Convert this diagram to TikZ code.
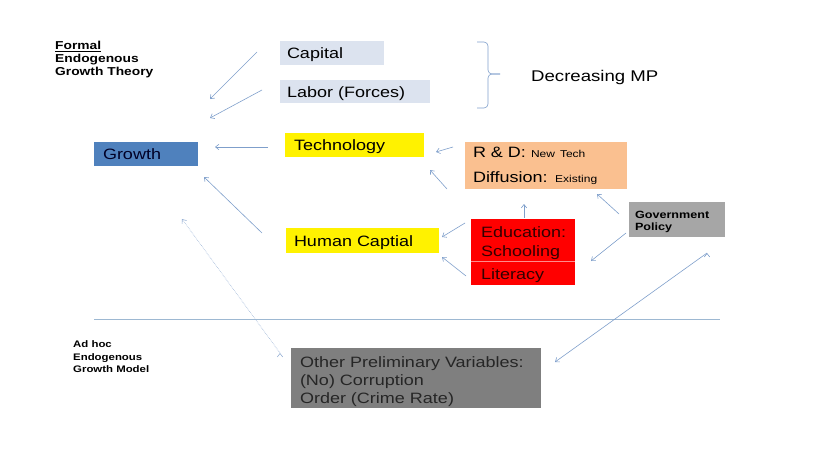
\documentclass[tikz,border=0pt]{standalone}
\usepackage{fontspec}
\setmainfont[FakeStretch=1.2]{Liberation Sans}
\usepackage{xcolor}
\usetikzlibrary{arrows.meta}
\definecolor{capblue}{HTML}{DCE3EF}
\definecolor{growthblue}{HTML}{4F81BD}
\definecolor{peach}{HTML}{FAC090}
\definecolor{govgray}{HTML}{A6A6A6}
\definecolor{othergray}{HTML}{7F7F7F}
\definecolor{arrowblue}{HTML}{7F9FCB}
\definecolor{rulecol}{HTML}{9DB8D2}
\newcommand{\lift}[1]{\rule{0pt}{#1}}

\begin{document}
\begin{tikzpicture}[x=1pt,y=-1pt,>={Straight Barb[length=3.5pt,width=5.5pt]},
	box/.style={inner xsep=8pt,inner ysep=0pt,align=left,font=\fontsize{15}{19}\selectfont},
	oneline/.style={text height=13pt,text depth=2pt},
	side/.style={inner sep=0pt,align=left,anchor=west},
	arr/.style={->,draw=arrowblue,line width=0.6pt}]
	\useasboundingbox (0,0) rectangle (819,460);

	% left hand labels
	\node [side,font=\bfseries\fontsize{11.5}{13}\selectfont] at (55,59.5) (formal) {\underline{Formal}\\Endogenous\\Growth Theory};
	\node [side,font=\bfseries\fontsize{9.5}{12.5}\selectfont] at (73,357) (adhoc) {Ad hoc\\Endogenous\\Growth Model};
	\node [side,font=\fontsize{15.5}{19}\selectfont] at (531,77) (dmp) {Decreasing MP};

	% boxes
	\node [box,oneline,fill=capblue,inner xsep=7pt,text width=90pt,minimum height=24pt] at (332,53) (capital) {Capital};
	\node [box,oneline,fill=capblue,inner xsep=7pt,text width=136pt,minimum height=23pt] at (355,91.5) (labor) {Labor (Forces)};
	\node [box,oneline,fill=growthblue,inner xsep=9pt,text width=86pt,minimum height=24pt,text=black!85!blue] at (146,154) (growth) {Growth};
	\node [box,oneline,fill=yellow,inner xsep=9pt,text width=121pt,minimum height=24pt] at (354.5,145) (tech) {Technology};
	\node [box,fill=peach,text width=146pt,minimum height=47pt,font=\fontsize{15}{25}\selectfont] at (546,165.5) (rd)
		{R \& D: {\fontsize{10}{12}\selectfont New Tech}\\Diffusion: {\fontsize{10}{12}\selectfont Existing}};
	\node [box,fill=red,inner xsep=10pt,text width=84pt,minimum height=42pt,text=black!80!red] at (523,240) (edu) {\lift{17pt}Education:\\Schooling};
	\node [box,oneline,fill=red,inner xsep=10pt,text width=84pt,minimum height=23pt,text=black!80!red] at (523,273.5) (lit) {Literacy};
	\node [box,oneline,fill=yellow,text width=137pt,minimum height=25pt] at (362.5,240.5) (hc) {Human Captial};
	\node [box,fill=govgray,inner xsep=6pt,inner ysep=4pt,text width=84pt,minimum height=31pt,font=\bfseries\fontsize{10.5}{12}\selectfont] at (677,219.5) (gov) {\lift{12pt}Government\\Policy};
	\node [box,fill=othergray,inner xsep=9pt,text width=232pt,minimum height=60pt,font=\fontsize{15}{18}\selectfont,text=black!85] at (416,378) (other)
		{\lift{19pt}Other Preliminary Variables:\\(No) Corruption\\Order (Crime Rate)};
	\draw [red!45!white,line width=0.5pt] (edu.south west) -- (edu.south east);

	% brace and dividing rule
	\draw [arrowblue,line width=0.6pt,rounded corners=4pt] (477,42) -| (488,74) -- (500,74);
	\draw [arrowblue,line width=0.6pt,rounded corners=4pt] (500,74) -- (488,74) |- (477,108);
	\draw [rulecol,line width=0.7pt] (94,319) -- (720,319);

	% arrow ends
	\coordinate (cap-s) at (257,52);   \coordinate (cap-e) at (210,99);
	\coordinate (lab-s) at (262,90);   \coordinate (lab-e) at (210,118);
	\coordinate (tec-s) at (268,147);  \coordinate (tec-e) at (215,147);
	\coordinate (rd-s) at (453,147);   \coordinate (rd-e) at (436,152);
	\coordinate (rd2-s) at (447,189);  \coordinate (rd2-e) at (430,170);
	\coordinate (edu-s) at (524,218);  \coordinate (edu-e) at (524,204);
	\coordinate (edh-s) at (465,223);  \coordinate (edh-e) at (442,237);
	\coordinate (lit-s) at (466,276);  \coordinate (lit-e) at (442,257);
	\coordinate (gov-s) at (619,214);  \coordinate (gov-e) at (597,194);
	\coordinate (gvl-s) at (626,233);  \coordinate (gvl-e) at (591,261);
	\coordinate (hc-s) at (262,233);   \coordinate (hc-e) at (204,177);
	\coordinate (oth-s) at (280,353);  \coordinate (oth-e) at (182,219);
	\coordinate (gvo-s) at (707,253);  \coordinate (gvo-e) at (555,362);

	\path[arr]
	(cap-s) edge (cap-e)
	(lab-s) edge (lab-e)
	(tec-s) edge (tec-e)
	(rd-s) edge (rd-e)
	(rd2-s) edge (rd2-e)
	(edu-s) edge (edu-e)
	(edh-s) edge (edh-e)
	(lit-s) edge (lit-e)
	(gov-s) edge (gov-e)
	(gvl-s) edge (gvl-e)
	(hc-s) edge (hc-e)
	(gvo-s) edge (gvo-e);
	\path[arr,draw=arrowblue!80,densely dotted] (oth-s) edge (oth-e);
\end{tikzpicture}
\end{document}
